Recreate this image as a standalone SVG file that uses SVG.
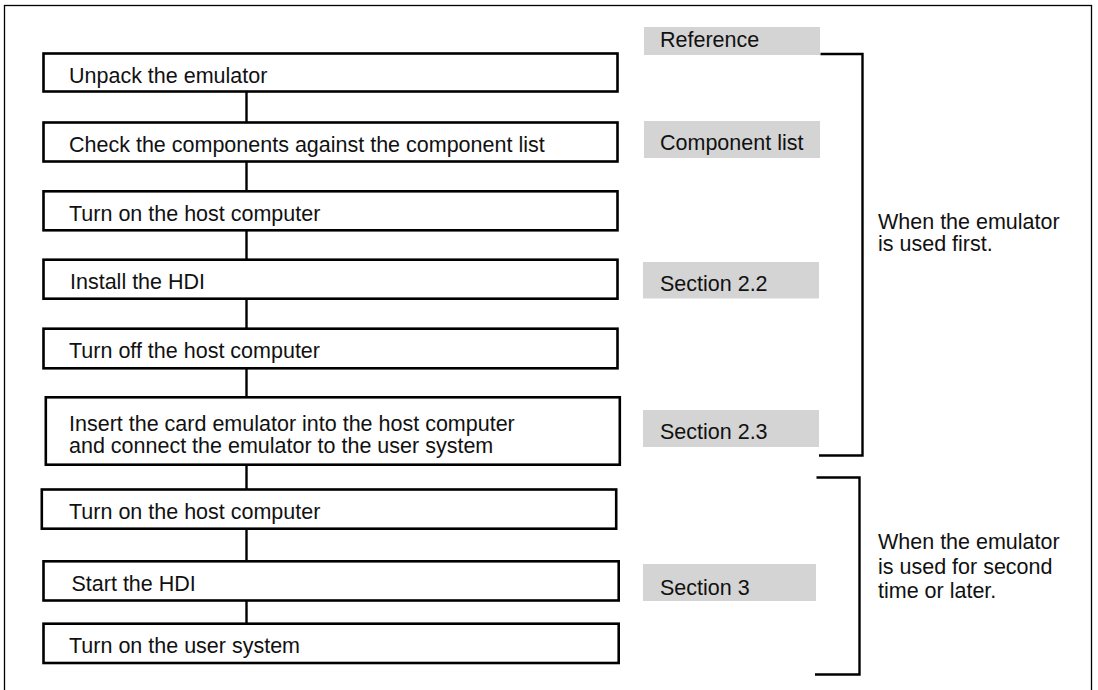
<svg xmlns="http://www.w3.org/2000/svg" width="1098" height="690" viewBox="0 0 1098 690">
<style>
.frame{fill:none;stroke:#000;stroke-width:1.3}
.box{fill:#fff;stroke:#000;stroke-width:2.6}
.ref{fill:#d4d4d4;stroke:none}
.t{font-family:"Liberation Sans",Arial,sans-serif;font-size:21.5px;fill:#111}
.c{fill:none;stroke:#000;stroke-width:2.4}
</style>
<rect width="1098" height="690" fill="#fff"/>
<rect class="frame" x="4.5" y="5.5" width="1087" height="700"/>
<g id="connectors">
<line class="c" x1="246.5" y1="92" x2="246.5" y2="122"/>
<line class="c" x1="246.5" y1="162" x2="246.5" y2="191"/>
<line class="c" x1="246.5" y1="230" x2="246.5" y2="260"/>
<line class="c" x1="246.5" y1="299" x2="246.5" y2="329"/>
<line class="c" x1="246.5" y1="368" x2="246.5" y2="397"/>
<line class="c" x1="246.5" y1="465" x2="246.5" y2="489"/>
<line class="c" x1="246.5" y1="529" x2="246.5" y2="561"/>
<line class="c" x1="246.5" y1="600" x2="246.5" y2="624"/>
<polyline class="c" points="820.5,54 862.5,54 862.5,455.5 819,455.5"/>
<polyline class="c" points="816.5,477.5 859.5,477.5 859.5,674.5 815,674.5"/>
</g>
<g id="n1"><rect class="box" x="43.5" y="53.5" width="574" height="38"/><text class="t" x="69" y="83">Unpack the emulator</text></g>
<g id="n2"><rect class="box" x="43.5" y="122.5" width="574" height="39"/><text class="t" x="69" y="152">Check the components against the component list</text></g>
<g id="n3"><rect class="box" x="43.5" y="191.3" width="574" height="39"/><text class="t" x="69" y="220.5">Turn on the host computer</text></g>
<g id="n4"><rect class="box" x="43.5" y="259.7" width="574" height="39"/><text class="t" x="70" y="289">Install the HDI</text></g>
<g id="n5"><rect class="box" x="43.5" y="328.7" width="574" height="39.6"/><text class="t" x="69" y="358">Turn off the host computer</text></g>
<g id="n6"><rect class="box" x="45.8" y="397.3" width="574" height="67.4"/><text class="t" x="69" y="430.5">Insert the card emulator into the host computer</text><text class="t" x="69" y="452.5">and connect the emulator to the user system</text></g>
<g id="n7"><rect class="box" x="41.8" y="489.5" width="574.4" height="39.2"/><text class="t" x="69" y="519">Turn on the host computer</text></g>
<g id="n8"><rect class="box" x="43.5" y="561.3" width="575.2" height="39.2"/><text class="t" x="71.5" y="590.5">Start the HDI</text></g>
<g id="n9"><rect class="box" x="43.5" y="623.7" width="575.2" height="39.3"/><text class="t" x="69" y="653">Turn on the user system</text></g>
<g id="r1"><rect class="ref" x="644" y="27" width="176" height="28"/><text class="t" x="660" y="47">Reference</text></g>
<g id="r2"><rect class="ref" x="644" y="121" width="176" height="37"/><text class="t" x="660" y="149.5">Component list</text></g>
<g id="r3"><rect class="ref" x="643" y="262" width="176" height="36.5"/><text class="t" x="660" y="290.5">Section 2.2</text></g>
<g id="r4"><rect class="ref" x="643" y="410" width="176" height="37"/><text class="t" x="660" y="439">Section 2.3</text></g>
<g id="r5"><rect class="ref" x="643" y="564" width="173" height="37"/><text class="t" x="660" y="595">Section 3</text></g>
<g id="note1"><text class="t" x="878" y="228.5">When the emulator</text><text class="t" x="878" y="251">is used first.</text></g>
<g id="note2"><text class="t" x="878" y="548.5">When the emulator</text><text class="t" x="878" y="573.5">is used for second</text><text class="t" x="878" y="598">time or later.</text></g>
</svg>
